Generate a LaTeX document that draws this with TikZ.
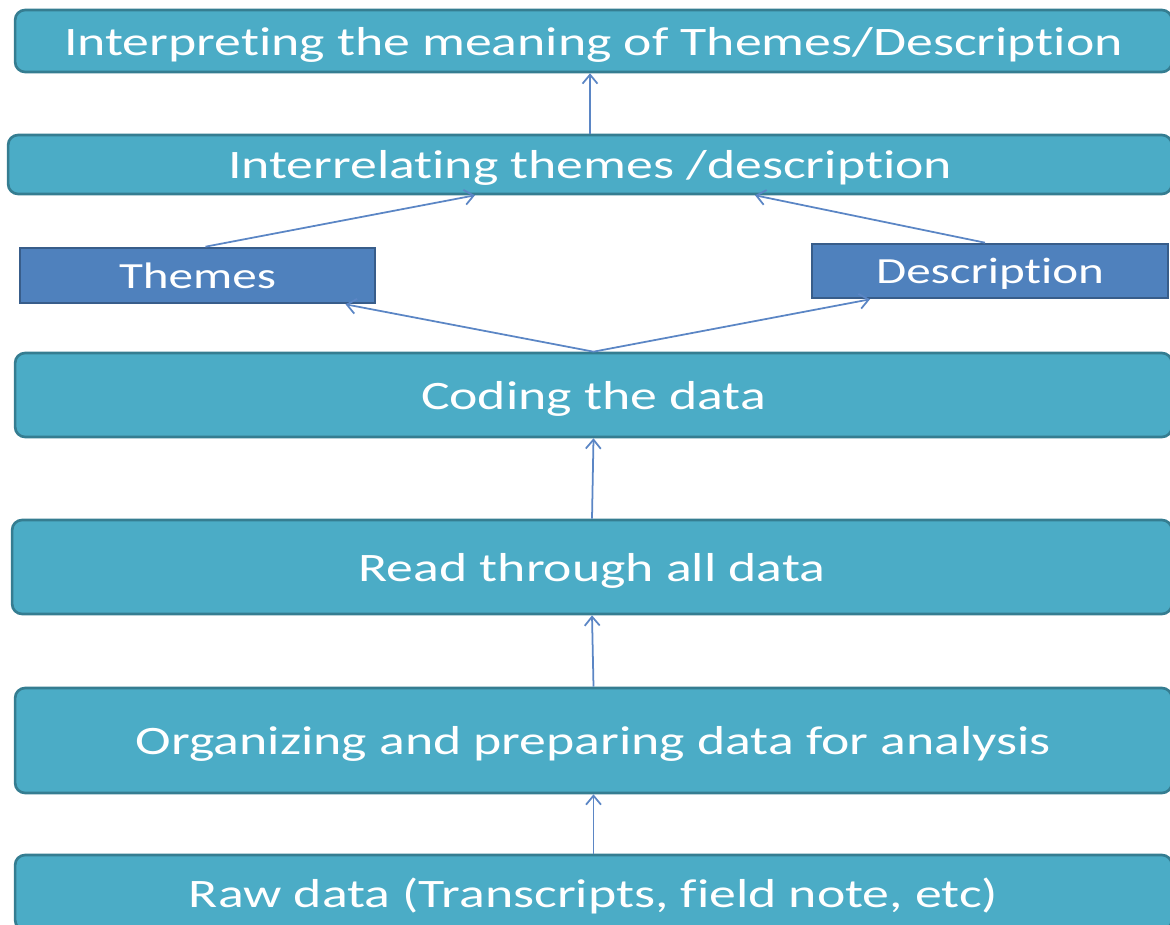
\documentclass[tikz,border=0pt]{standalone}
\usepackage{fontspec}
\setmainfont[FakeStretch=1.33, Ligatures=NoCommon]{Carlito}
\usetikzlibrary{arrows.meta,calc}

\definecolor{boxfill}{HTML}{4BACC6}
\definecolor{boxline}{HTML}{357D91}
\definecolor{tagfill}{HTML}{4F81BD}
\definecolor{tagline}{HTML}{385D8A}
\definecolor{arrowcol}{HTML}{5B86C5}

\tikzset{
    stage/.style={draw=boxline, line width=1.5pt, fill=boxfill, rounded corners=0.2cm,
        text=white, font=\fontsize{23}{27}\selectfont, inner sep=0pt, text depth=0pt},
    tag/.style={draw=tagline, line width=1.5pt, fill=tagfill,
        text=white, font=\fontsize{21}{25}\selectfont, inner sep=0pt, text depth=0pt},
    flow/.style={draw=arrowcol, line width=1pt, -{Straight Barb[length=1.8mm,width=3mm]}}
}

\begin{document}
\begin{tikzpicture}[x=0.02cm, y=-0.02cm]
    \useasboundingbox (0,0) rectangle (1170,925);

    % stages
    \node[stage, minimum width=23.14cm, minimum height=1.24cm] (interp) at (593.5,41)
        {Interpreting the meaning of Themes/Description};
    \node[stage, minimum width=23.28cm, minimum height=1.18cm] (interrel) at (590,164.5)
        {Interrelating themes /description};
    \node[stage, minimum width=23.14cm, minimum height=1.68cm] (coding) at (593.5,395)
        {Coding the data};
    \node[stage, minimum width=23.2cm, minimum height=1.88cm] (read) at (592,567)
        {Read through all data};
    \node[stage, minimum width=23.14cm, minimum height=2.1cm] (organize) at (593.5,740.5)
        {Organizing and preparing data for analysis};
    \node[stage, minimum width=23.14cm, minimum height=1.5cm] (raw) at (593.5,892.5)
        {Raw data (Transcripts, field note, etc)};

    % themes and description
    \node[tag, minimum width=7.1cm, minimum height=1.1cm] (themes) at (197.5,275.5) {Themes};
    \node[tag, minimum width=7.12cm, minimum height=1.08cm] (desc) at (990,271) {Description};

    % arrows
    \draw[flow] (raw.north) -- (organize.south);
    \draw[flow] (organize.north) -- (read.south);
    \draw[flow] (read.north) -- (coding.south);
    \draw[flow] (coding.north) -- ($(themes.south)+(148,0)$);
    \draw[flow] (coding.north) -- ($(desc.south)+(-120,0)$);
    \draw[flow] ($(themes.north)+(8,0)$) -- ($(interrel.south)+(-115,0)$);
    \draw[flow] ($(desc.north)+(-5,0)$) -- ($(interrel.south)+(165,0)$);
    \draw[flow] (interrel.north) -- (interrel.north |- interp.south);
\end{tikzpicture}
\end{document}
